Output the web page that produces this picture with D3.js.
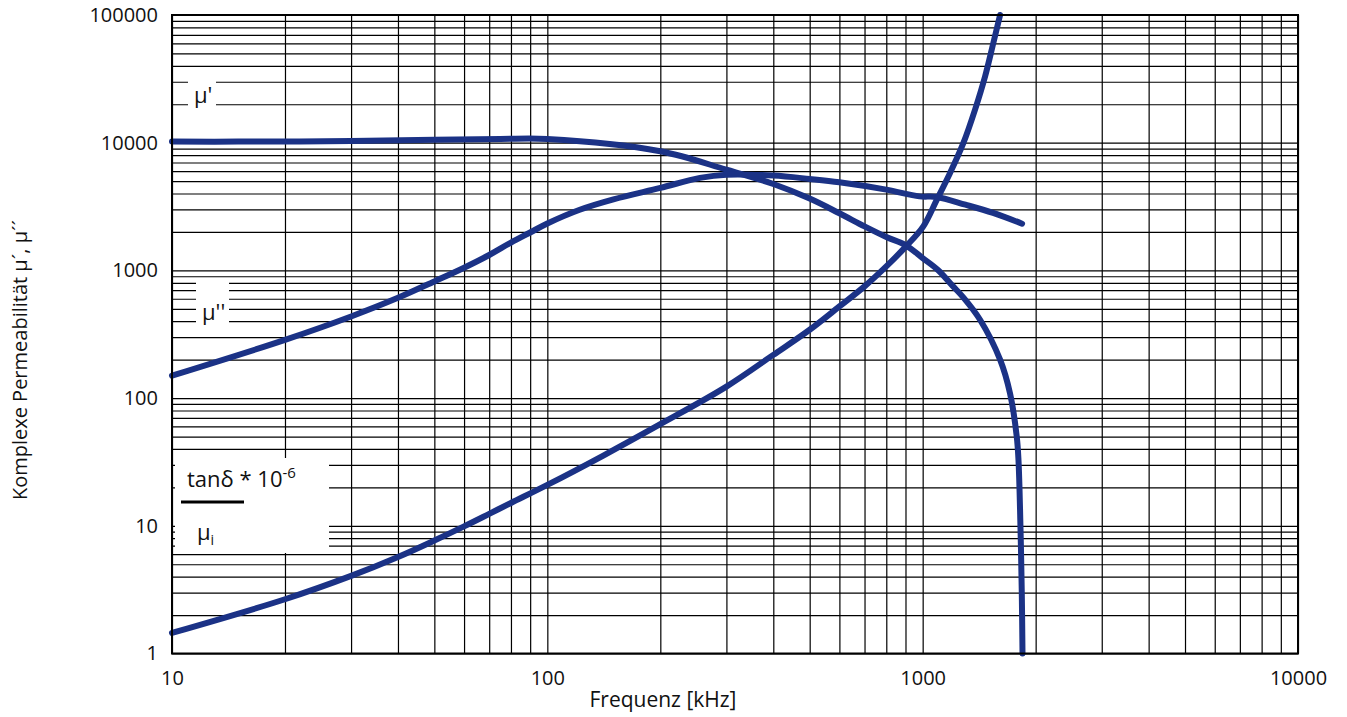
<!DOCTYPE html>
<html>
<head>
    <meta charset="utf-8">
    <script src="https://cdn.jsdelivr.net/npm/d3@7"></script>
</head>

<style>
    body { margin: 0; background: white; }
    svg text {
        font-family: "Open Sans", "DejaVu Sans", sans-serif;
        font-weight: 400;
        fill: #111;
    }
    .grid line { stroke: #000; stroke-width: 1.2; }
    .grid path { display: none; }
    .labels path { display: none; }
    .labels text { font-size: 20px; }
</style>

<body>
<div id="chart"></div>

<script>

    // mu' (real part)
    var muRealFreq = [10, 15, 30, 50, 75, 100, 200, 300, 400, 500, 600, 700, 800, 900, 1000, 1100, 1200, 1283, 1422, 1608, 1709, 1781, 1800, 1822, 1837, 1845];
    var muReal     = [10200, 10200, 10300, 10570, 10700, 10700, 8570, 6150, 4750, 3650, 2800, 2213, 1828, 1580, 1250, 1004, 760, 615, 411, 200, 109, 50, 32.8, 9.86, 2.96, 1];

    // mu'' (imaginary part)
    var muImagFreq = [10, 20, 30, 40, 50, 60, 70, 80, 90, 100, 122, 150, 200, 255, 300, 400, 500, 600, 800, 980, 1090, 1300, 1540, 1840];
    var muImag     = [150, 286, 436, 610, 820, 1050, 1320, 1650, 1980, 2330, 2985, 3600, 4425, 5300, 5620, 5525, 5200, 4900, 4290, 3800, 3760, 3270, 2820, 2322];

    // tan delta / mu_i * 10^-6
    var tanFreq = [10, 20, 30, 40, 50, 60, 70, 80, 100, 141, 200, 300, 400, 500, 600, 700, 800, 895, 1004, 1091, 1183, 1284, 1379, 1467, 1543, 1608];
    var tanVal  = [1.45, 2.66, 4.05, 5.7, 7.67, 9.9, 12.4, 15.1, 20.9, 35.5, 62.5, 123, 218, 343, 522, 750, 1075, 1500, 2212, 3581, 5795, 9960, 18160, 33140, 60530, 100000];

    var xTickValues = [10, 100, 1000, 10000];
    var yTickValues = [1, 10, 100, 1000, 10000, 100000];

    var totalWidth = 1347;
    var totalHeight = 717;
    var padding = { top: 15, right: 49, bottom: 63.5, left: 172 };
    var width = totalWidth - padding.left - padding.right;
    var height = totalHeight - padding.top - padding.bottom;

    var xScale = d3.scaleLog()
        .domain([10, 10000])
        .range([0, width]);

    var yScale = d3.scaleLog()
        .domain([1, 100000])
        .range([height, 0]);

    var svg = d3.select('#chart').append('svg')
        .attr('width', totalWidth)
        .attr('height', totalHeight);

    var g = svg.append('g')
        .attr('transform', 'translate(' + padding.left + ', ' + padding.top + ')');

    // grid lines (every minor log step)
    g.append('g')
        .attr('class', 'grid')
        .attr('transform', 'translate(0,' + height + ')')
        .call(d3.axisBottom(xScale).tickValues(xScale.ticks()).tickSize(-height).tickFormat(''));

    g.append('g')
        .attr('class', 'grid')
        .call(d3.axisLeft(yScale).tickValues(yScale.ticks()).tickSize(-width).tickFormat(''));

    // white boxes behind the curve labels
    g.append('rect').attr('x', 16).attr('y', 56).attr('width', 28).attr('height', 54).attr('fill', 'white');
    g.append('rect').attr('x', 24).attr('y', 264).attr('width', 33).attr('height', 50).attr('fill', 'white');
    g.append('rect').attr('x', 3).attr('y', 443).attr('width', 154).attr('height', 95).attr('fill', 'white');

    g.append('text').attr('x', 22).attr('y', 88).style('font-size', '22px').text("μ'");
    g.append('text').attr('x', 30).attr('y', 305).style('font-size', '22px').text("μ''");

    var tanLabel = g.append('text').attr('x', 15).attr('y', 472).style('font-size', '22px');
    tanLabel.append('tspan').text('tanδ * 10');
    tanLabel.append('tspan').attr('dy', -9).style('font-size', '15px').text('-6');

    g.append('rect').attr('x', 9).attr('y', 485.5).attr('width', 63).attr('height', 3).attr('fill', '#000');

    var muLabel = g.append('text').attr('x', 25).attr('y', 525).style('font-size', '22px');
    muLabel.append('tspan').text('μ');
    muLabel.append('tspan').attr('dy', 5).style('font-size', '14px').text('i');

    // curves
    var line = d3.line()
        .x(function(d) { return xScale(d[0]); })
        .y(function(d) { return yScale(d[1]); })
        .curve(d3.curveCatmullRom.alpha(0.5));

    var series = [
        d3.zip(muRealFreq, muReal),
        d3.zip(muImagFreq, muImag),
        d3.zip(tanFreq, tanVal)
    ];

    g.selectAll('path.curve')
        .data(series)
        .enter()
        .append('path')
        .attr('class', 'curve')
        .attr('d', line)
        .attr('fill', 'none')
        .attr('stroke', '#1b3286')
        .attr('stroke-width', 6)
        .attr('stroke-linecap', 'round')
        .attr('stroke-linejoin', 'round');

    // frame
    g.append('rect')
        .attr('width', width)
        .attr('height', height)
        .attr('fill', 'none')
        .attr('stroke', '#000')
        .attr('stroke-width', 2);

    // tick labels, decades only
    g.append('g')
        .attr('class', 'labels')
        .call(d3.axisLeft(yScale).tickValues(yTickValues).tickFormat(d3.format('d')).tickSize(0).tickPadding(14));

    g.append('g')
        .attr('class', 'labels')
        .attr('transform', 'translate(0,' + height + ')')
        .call(d3.axisBottom(xScale).tickValues(xTickValues).tickFormat(d3.format('d')).tickSize(0).tickPadding(17));

    svg.append('text')
        .attr('x', 663)
        .attr('y', 707)
        .attr('text-anchor', 'middle')
        .style('font-size', '21px')
        .text('Frequenz [kHz]');

    svg.append('text')
        .attr('transform', 'translate(27, 360) rotate(-90)')
        .attr('text-anchor', 'middle')
        .style('font-size', '20px')
        .text('Komplexe Permeabilität μ´, μ´´');

</script>
</body>
</html>
